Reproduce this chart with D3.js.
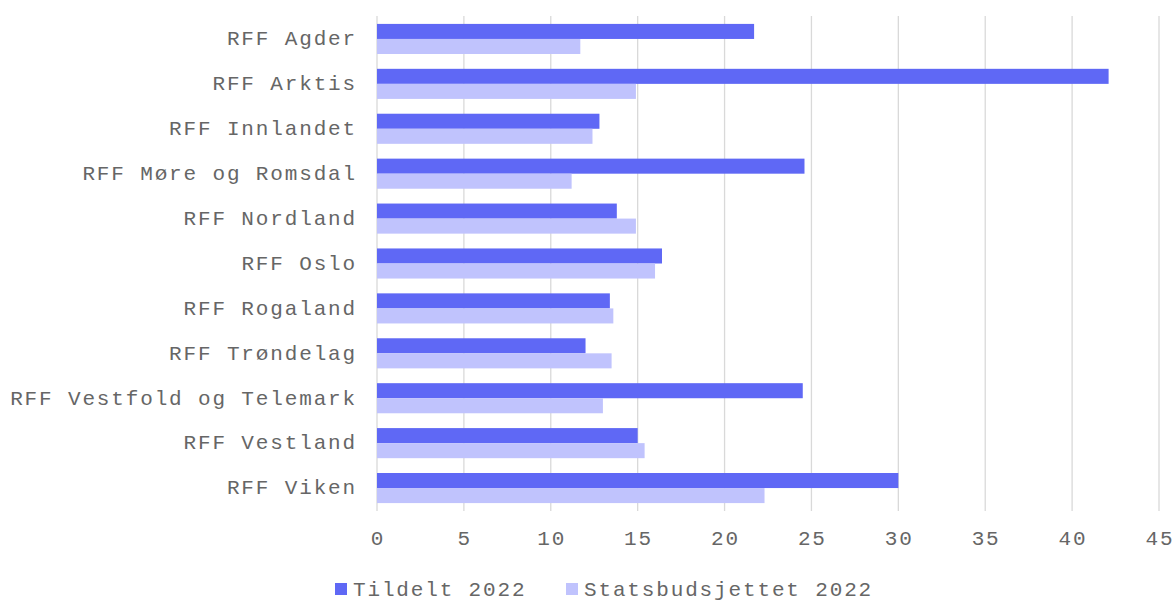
<!doctype html>
<html>
<head>
  <meta charset="utf-8">
  <title>Tildelt og statsbudsjett 2022</title>
  <script src="https://d3js.org/d3.v7.min.js"></script>
  <style>
    body { margin: 0; background: #fff; }
    svg text {
      font-family: "Liberation Mono", "Courier New", monospace;
      font-size: 21px;
      letter-spacing: 1.85px;
      fill: #666666;
    }
  </style>
</head>
<body>
<script>
// data
var categories = ["RFF Agder", "RFF Arktis", "RFF Innlandet", "RFF Møre og Romsdal", "RFF Nordland",
  "RFF Oslo", "RFF Rogaland", "RFF Trøndelag", "RFF Vestfold og Telemark", "RFF Vestland", "RFF Viken"];
var seriesNames = ["Tildelt 2022", "Statsbudsjettet 2022"];
var tildelt = [21.7, 42.1, 12.8, 24.6, 13.8, 16.4, 13.4, 12.0, 24.5, 15.0, 30.0];
var statsbudsjett = [11.7, 14.9, 12.4, 11.2, 14.9, 16.0, 13.6, 13.5, 13.0, 15.4, 22.3];
var xTicks = [0, 5, 10, 15, 20, 25, 30, 35, 40, 45];

var colors = ["#5f68f5", "#c0c3fd"];
var width = 1175, height = 601;

var svg = d3.select("body").append("svg")
    .attr("width", width)
    .attr("height", height);

var x = d3.scaleLinear().domain([0, 45]).range([377, 1159]);
var y = d3.scaleBand().domain(categories).range([16.5, 510.5])
    .paddingInner(0.33).paddingOuter(0.165);
var y1 = d3.scaleBand().domain(seriesNames).range([0, y.bandwidth()]);

// gridlines
svg.append("g").selectAll("line")
    .data(xTicks)
    .enter().append("line")
    .attr("x1", function(d) { return x(d); })
    .attr("x2", function(d) { return x(d); })
    .attr("y1", 16)
    .attr("y2", 511)
    .attr("stroke", "#d9d9d9")
    .attr("stroke-width", 1.3);

// bars
var rows = categories.map(function(c, i) {
  return { cat: c, values: [tildelt[i], statsbudsjett[i]] };
});

var groups = svg.append("g").selectAll("g")
    .data(rows)
    .enter().append("g")
    .attr("transform", function(d) { return "translate(0," + y(d.cat) + ")"; });

groups.selectAll("rect")
    .data(function(d) { return d.values.map(function(v, j) { return { s: seriesNames[j], v: v, j: j }; }); })
    .enter().append("rect")
    .attr("x", x(0))
    .attr("y", function(d) { return y1(d.s); })
    .attr("width", function(d) { return x(d.v) - x(0); })
    .attr("height", y1.bandwidth())
    .attr("fill", function(d) { return colors[d.j]; });

// category labels
svg.append("g").selectAll("text")
    .data(categories)
    .enter().append("text")
    .attr("x", 357)
    .attr("y", function(d) { return y(d) + y.bandwidth() / 2 - 1; })
    .attr("dy", "0.35em")
    .attr("text-anchor", "end")
    .text(function(d) { return d; });

// x tick labels
svg.append("g").selectAll("text")
    .data(xTicks)
    .enter().append("text")
    .attr("x", function(d) { return x(d) + 0.9; })
    .attr("y", 538)
    .attr("dy", "0.35em")
    .attr("text-anchor", "middle")
    .text(function(d) { return d; });

// legend
var legendX = [335, 566];
var legend = svg.append("g").selectAll("g")
    .data(seriesNames)
    .enter().append("g")
    .attr("transform", function(d, i) { return "translate(" + legendX[i] + ",589)"; });

legend.append("rect")
    .attr("x", 0)
    .attr("y", -6)
    .attr("width", 12)
    .attr("height", 12)
    .attr("fill", function(d, i) { return colors[i]; });

legend.append("text")
    .attr("x", 18)
    .attr("y", 0)
    .attr("dy", "0.35em")
    .text(function(d) { return d; });
</script>
</body>
</html>
